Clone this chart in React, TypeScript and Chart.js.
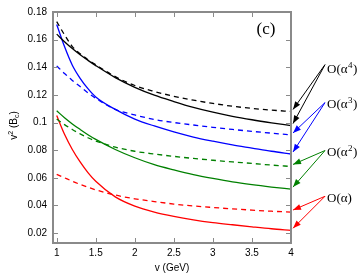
import React, { useEffect, useRef } from "react";
import { Chart, registerables } from "chart.js";

Chart.register(...registerables);

// ---- data ----
const xs = [1, 1.1, 1.2, 1.3, 1.4, 1.5, 1.75, 2, 2.25, 2.5, 2.75, 3, 3.25, 3.5, 3.75, 4];

const blackSolid = [0.164, 0.1585, 0.1535, 0.149, 0.145, 0.1412, 0.1325, 0.1255, 0.1198, 0.1152, 0.111, 0.1075, 0.1045, 0.102, 0.0998, 0.0978];
const blackDashed = [0.173, 0.1635, 0.155, 0.1498, 0.1455, 0.1418, 0.1332, 0.1268, 0.1225, 0.119, 0.1162, 0.1138, 0.1118, 0.1102, 0.109, 0.108];
const blueSolid = [0.171, 0.155, 0.1415, 0.132, 0.1245, 0.1185, 0.1095, 0.1025, 0.0975, 0.0932, 0.0895, 0.0865, 0.0838, 0.0815, 0.0792, 0.0772];
const blueDashed = [0.141, 0.1355, 0.1305, 0.126, 0.1215, 0.1175, 0.1095, 0.1055, 0.1022, 0.1, 0.0982, 0.0965, 0.095, 0.0936, 0.0923, 0.091];
const greenSolid = [0.1085, 0.1035, 0.099, 0.095, 0.0912, 0.0878, 0.0805, 0.0745, 0.0695, 0.0657, 0.0623, 0.0595, 0.057, 0.055, 0.0533, 0.0518];
const greenDashed = [0.1025, 0.0985, 0.095, 0.0918, 0.089, 0.0866, 0.0822, 0.0792, 0.0772, 0.0755, 0.074, 0.0727, 0.0715, 0.0704, 0.0692, 0.0682];
const redSolid = [0.105, 0.0915, 0.0805, 0.0715, 0.0638, 0.0575, 0.0462, 0.0395, 0.0352, 0.0321, 0.0296, 0.0276, 0.026, 0.0245, 0.0231, 0.022];
const redDashed = [0.0625, 0.06, 0.0575, 0.0552, 0.0532, 0.0513, 0.0475, 0.0448, 0.0428, 0.041, 0.0396, 0.0385, 0.0375, 0.0366, 0.0358, 0.0352];

const xTicks = [1, 1.5, 2, 2.5, 3, 3.5, 4];
const yTicks = [0.02, 0.04, 0.06, 0.08, 0.1, 0.12, 0.14, 0.16, 0.18];

const orderSup = ["4", "3", "2", ""];
const orderLabelY = [0.139, 0.1137, 0.079, 0.0459];
const orderColors = ["#000000", "#0000ff", "#008000", "#ff0000"];

const pts = (ys: number[]) => ys.map((y, i) => ({ x: xs[i], y }));

export default function App() {
  const ref = useRef<HTMLCanvasElement | null>(null);

  useEffect(() => {
    document.body.style.margin = "0";
    const canvas = ref.current;
    if (!canvas) return;

    const pairs: [number[], number[]][] = [
      [blackDashed, blackSolid],
      [blueDashed, blueSolid],
      [greenDashed, greenSolid],
      [redDashed, redSolid],
    ];

    const datasets: any[] = [];
    pairs.forEach(([d, s], i) => {
      datasets.push({
        data: pts(s),
        borderColor: orderColors[i],
        borderWidth: 1.3,
        pointRadius: 0,
        fill: false,
        cubicInterpolationMode: "monotone",
      });
      datasets.push({
        data: pts(d),
        borderColor: orderColors[i],
        borderWidth: 1.3,
        borderDash: [5, 4],
        pointRadius: 0,
        fill: false,
        cubicInterpolationMode: "monotone",
      });
    });

    const framePlugin = {
      id: "frame",
      afterDraw(chart: any) {
        const { ctx, chartArea: a, scales } = chart;
        const sx = scales.x;
        const sy = scales.y;
        ctx.save();
        // frame
        ctx.strokeStyle = "#8a8a8a";
        ctx.lineWidth = 2;
        ctx.strokeRect(a.left, a.top, a.right - a.left, a.bottom - a.top);
        // inward ticks
        ctx.lineWidth = 1;
        ctx.beginPath();
        yTicks.forEach((v) => {
          const py = Math.round(sy.getPixelForValue(v)) + 0.5;
          ctx.moveTo(a.left, py);
          ctx.lineTo(a.left + 5, py);
          ctx.moveTo(a.right, py);
          ctx.lineTo(a.right - 5, py);
        });
        xTicks.forEach((v) => {
          const px = Math.round(sx.getPixelForValue(v)) + 0.5;
          ctx.moveTo(px, a.bottom);
          ctx.lineTo(px, a.bottom - 5);
          ctx.moveTo(px, a.top);
          ctx.lineTo(px, a.top + 5);
        });
        ctx.stroke();

        // x title
        ctx.fillStyle = "#000";
        ctx.font = "10px 'Liberation Sans'";
        ctx.textAlign = "center";
        ctx.textBaseline = "middle";
        ctx.fillText("v (GeV)", (a.left + a.right) / 2, 268);

        // y title (rotated) v² (B_c)
        ctx.save();
        ctx.translate(13, (a.top + a.bottom) / 2 - 2);
        ctx.rotate(-Math.PI / 2);
        ctx.textAlign = "left";
        ctx.textBaseline = "alphabetic";
        const big = "10px 'Liberation Sans'";
        const small = "7px 'Liberation Sans'";
        const parts: [string, string, number][] = [
          ["v", big, 0],
          ["2", small, -4],
          [" (B", big, 0],
          ["c", small, 2],
          [")", big, 0],
        ];
        let total = 0;
        parts.forEach(([t, f]) => {
          ctx.font = f;
          total += ctx.measureText(t).width;
        });
        let cx = -total / 2;
        parts.forEach(([t, f, dy]) => {
          ctx.font = f;
          ctx.fillText(t, cx, 4 + dy);
          cx += ctx.measureText(t).width;
        });
        ctx.restore();

        // panel label
        ctx.font = "17px 'Liberation Serif'";
        ctx.textAlign = "left";
        ctx.textBaseline = "middle";
        ctx.fillStyle = "#000";
        ctx.fillText("(c)", 256.5, 30);

        // order annotations with arrows
        const tx = a.right + 36;
        pairs.forEach(([d, s], i) => {
          const ty = sy.getPixelForValue(orderLabelY[i]);
          const col = orderColors[i];
          ctx.fillStyle = "#000";
          ctx.textBaseline = "alphabetic";
          const base = ty + 4.5;
          ctx.font = "13px 'Liberation Serif'";
          let px = tx;
          ctx.fillText("O(α", px, base);
          px += ctx.measureText("O(α").width;
          if (orderSup[i]) {
            ctx.font = "9px 'Liberation Serif'";
            ctx.fillText(orderSup[i], px + 0.5, base - 5.5);
            px += ctx.measureText(orderSup[i]).width + 1;
          }
          ctx.font = "13px 'Liberation Serif'";
          ctx.fillText(")", px, base);

          // arrows
          const sxp = tx - 2;
          const syp = ty - (i === 0 ? 4 : 1);
          [d, s].forEach((arr) => {
            const ex = a.right + 2;
            const ey = sy.getPixelForValue(arr[arr.length - 1]) - 2;
            ctx.strokeStyle = col;
            ctx.fillStyle = col;
            ctx.lineWidth = 1;
            ctx.beginPath();
            ctx.moveTo(sxp, syp);
            ctx.lineTo(ex, ey);
            ctx.stroke();
            const ang = Math.atan2(ey - syp, ex - sxp);
            const L = 8;
            const W = 3;
            const bx = ex - L * Math.cos(ang);
            const by = ey - L * Math.sin(ang);
            ctx.beginPath();
            ctx.moveTo(ex, ey);
            ctx.lineTo(bx + W * Math.sin(ang), by - W * Math.cos(ang));
            ctx.lineTo(bx - W * Math.sin(ang), by + W * Math.cos(ang));
            ctx.closePath();
            ctx.fill();
          });
        });
        ctx.restore();
      },
    };

    const chart = new Chart(canvas, {
      type: "line",
      data: { datasets },
      plugins: [framePlugin],
      options: {
        animation: false,
        responsive: false,
        maintainAspectRatio: false,
        layout: { padding: { top: 6, right: 66, bottom: 0, left: 0 } },
        plugins: {
          legend: { display: false },
          tooltip: { enabled: false },
        },
        scales: {
          x: {
            type: "linear",
            min: 0.9526,
            max: 4,
            grid: { display: false, drawTicks: false },
            border: { display: false },
            ticks: {
              padding: 4,
              color: "#000",
              font: { family: "'Liberation Sans'", size: 10 },
              maxRotation: 0,
              callback: (v: any) => String(v),
            },
            afterBuildTicks: (scale: any) => {
              scale.ticks = xTicks.map((v) => ({ value: v }));
            },
            afterFit: (scale: any) => {
              scale.height = 31;
            },
          },
          y: {
            type: "linear",
            min: 0.0128,
            max: 0.18,
            grid: { display: false, drawTicks: false },
            border: { display: false },
            ticks: {
              padding: 6,
              color: "#000",
              font: { family: "'Liberation Sans'", size: 10 },
              callback: (v: any) => String(v),
            },
            afterBuildTicks: (scale: any) => {
              scale.ticks = yTicks.map((v) => ({ value: v }));
            },
            afterFit: (scale: any) => {
              scale.width = 53;
            },
          },
        },
      },
    });

    return () => chart.destroy();
  }, []);

  return (
    <div style={{ width: 357, height: 274 }}>
      <canvas ref={ref} width={357} height={274} style={{ display: "block" }} />
    </div>
  );
}
